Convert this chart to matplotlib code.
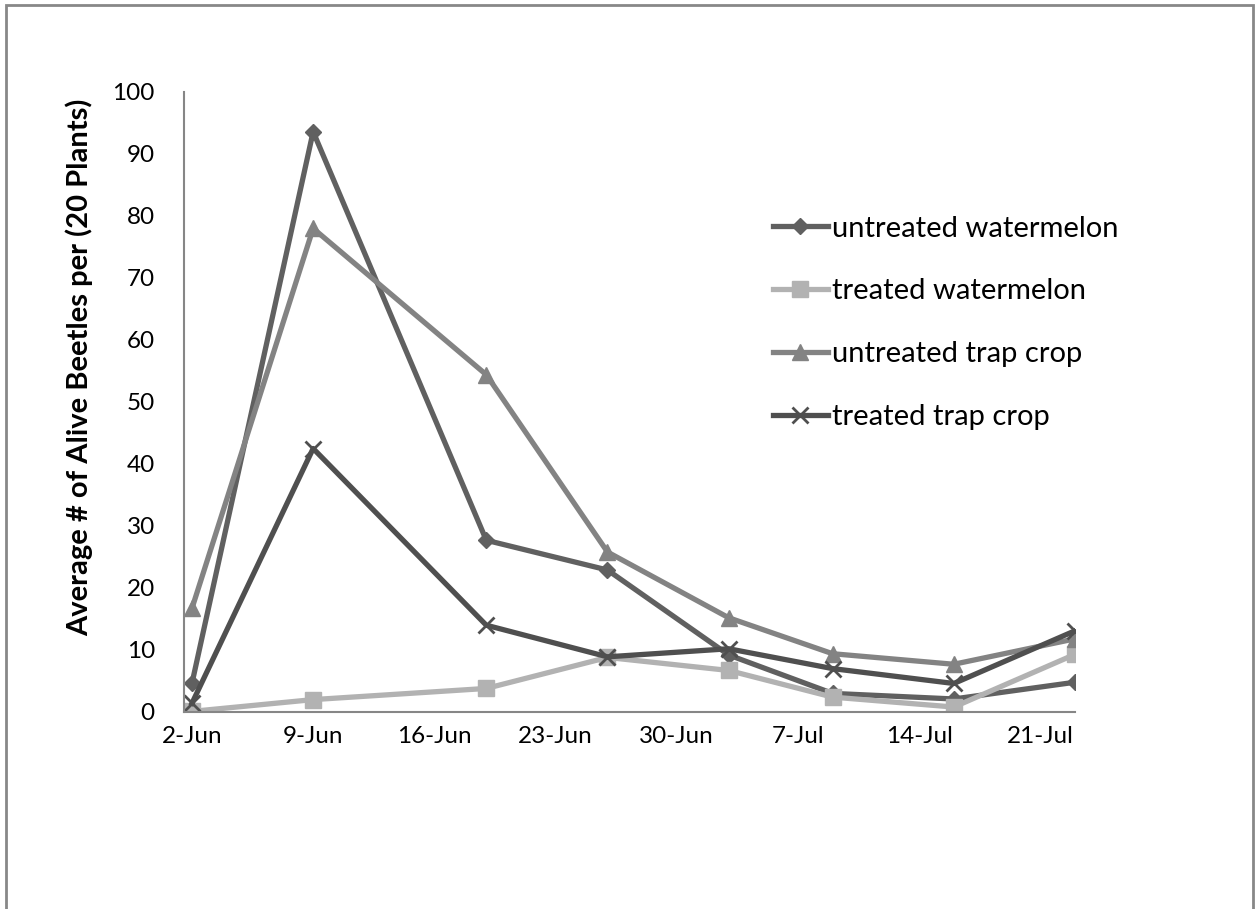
import datetime as dt
import matplotlib
matplotlib.use('Agg')
import matplotlib.pyplot as plt
import matplotlib.dates as mdates
from matplotlib.patches import Rectangle

plt.rcParams['font.family'] = ['Lato', 'DejaVu Sans']

dates = ['2-Jun', '9-Jun', '19-Jun', '26-Jun', '3-Jul', '9-Jul', '16-Jul', '23-Jul']
tick_dates = ['2-Jun', '9-Jun', '16-Jun', '23-Jun', '30-Jun', '7-Jul', '14-Jul', '21-Jul']

untreated_watermelon = [4.6, 93.6, 27.7, 22.9, 9.2, 3.0, 2.1, 4.8]
treated_watermelon = [0.1, 2.0, 3.8, 8.8, 6.7, 2.4, 0.8, 9.3]
untreated_trap = [16.7, 78.0, 54.4, 25.8, 15.2, 9.4, 7.7, 11.8]
treated_trap = [1.4, 42.5, 14.0, 8.9, 10.2, 7.0, 4.6, 13.1]


def to_date(s):
    return dt.datetime.strptime(s + '-2010', '%d-%b-%Y')


x = [to_date(d) for d in dates]
ticks = [to_date(d) for d in tick_dates]

fig = plt.figure(figsize=(12.55, 9.09), dpi=100)
ax = fig.add_axes([184 / 1255, 1 - 712 / 909, (1075 - 184) / 1255, (712 - 92) / 909])

ax.plot(x, untreated_watermelon, color='#606060', lw=3.8, marker='D', ms=8,
        label='untreated watermelon')
ax.plot(x, treated_watermelon, color='#b2b2b2', lw=3.8, marker='s', ms=12,
        label='treated watermelon')
ax.plot(x, untreated_trap, color='#838383', lw=3.8, marker='^', ms=12,
        label='untreated trap crop')
ax.plot(x, treated_trap, color='#4f4f4f', lw=3.8, marker='x', ms=12, mew=2,
        label='treated trap crop')

ax.set_ylim(0, 100)
ax.set_yticks(range(0, 101, 10))
ax.set_xlim(x[0] - dt.timedelta(hours=11), x[-1])
ax.set_xticks(ticks)
ax.xaxis.set_major_formatter(mdates.DateFormatter('%-d-%b'))
ax.tick_params(length=0, labelsize=17.5)
ax.tick_params(axis='x', pad=10)
ax.tick_params(axis='y', pad=21)

for side in ['top', 'right']:
    ax.spines[side].set_visible(False)
for side in ['left', 'bottom']:
    ax.spines[side].set_color('#868686')
    ax.spines[side].set_linewidth(1.5)

fig.text(79 / 1255, 1 - 367 / 909, 'Average # of Alive Beetles per (20 Plants)',
         rotation=90, ha='center', va='center', fontsize=21, fontweight='bold')

ax.legend(loc='upper left', bbox_to_anchor=(758 / 1255, 1 - 201 / 909),
          bbox_transform=fig.transFigure, frameon=False, fontsize=21,
          handlelength=1.9, handletextpad=0.15, labelspacing=1.26, borderpad=0)

fig.patches.append(Rectangle((6 / 1255, -0.1), (1253 - 6) / 1255, 1.1 - 5 / 909,
                             transform=fig.transFigure, fill=False,
                             edgecolor='#888888', lw=2))

fig.savefig('out.png', dpi=100, facecolor='white')
